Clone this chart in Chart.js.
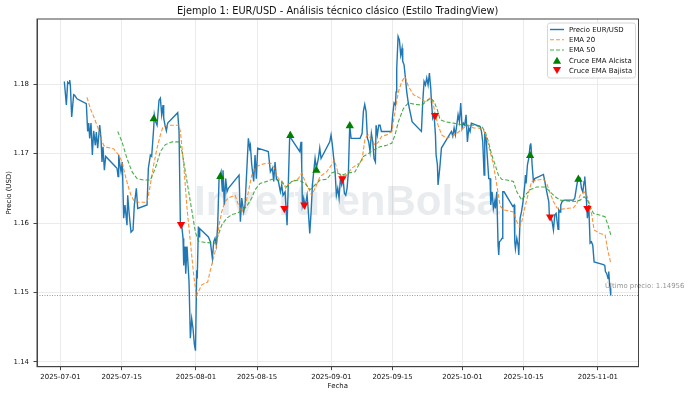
<!DOCTYPE html>
<html>
<head>
<meta charset="utf-8">
<script src="https://cdn.jsdelivr.net/npm/chart.js@4.4.1/dist/chart.umd.min.js"></script>
<style>
html, body { margin: 0; padding: 0; background: #fff; }
#wrap { width: 700px; height: 393px; }
</style>
</head>
<body>
<div id="wrap"><canvas id="chart" width="700" height="393"></canvas></div>
<script>
// eje x: dias desde 2025-07-01 00:00
var tickDays = [0, 14, 31, 45, 62, 76, 92, 106, 123];
var tickLabels = ['2025-07-01', '2025-07-15', '2025-08-01', '2025-08-15', '2025-09-01',
                  '2025-09-15', '2025-10-01', '2025-10-15', '2025-11-01'];
var yTicks = [1.14, 1.15, 1.16, 1.17, 1.18];

var priceDays = [
    0.88, 1.34, 1.64, 1.95, 2.10, 2.25, 2.56, 3.01, 3.24, 3.78,
    5.91, 6.22, 6.45, 6.68, 6.98, 7.29, 7.59, 7.97, 8.20, 8.51, 8.97, 9.27, 9.50, 9.73, 10.04, 10.34,
    12.94, 13.17, 13.32, 13.55, 13.85, 14.15, 14.46, 14.76, 15.22, 15.38, 15.68, 16.14, 16.60, 16.90, 17.36, 17.67,
    19.81, 20.11, 20.57, 20.87, 21.33, 21.48, 21.79, 22.10, 22.55, 22.86, 23.16, 23.47, 23.62, 23.92, 24.23, 24.54,
    26.83, 27.13, 27.44, 27.74, 28.05, 28.20, 28.50, 28.66, 28.96, 29.42, 29.72, 30.03, 30.33, 30.64, 30.90,
    31.18, 31.30, 31.56, 31.71, 31.86,
    33.85, 34.30, 34.76, 35.07, 35.37, 35.68, 35.98, 36.29, 36.75, 37.05, 37.20, 37.51, 37.81, 38.12, 38.42,
    40.87, 41.17, 41.48, 41.93, 42.24, 42.70, 43.00, 43.31, 43.46, 43.77, 44.22, 44.53, 44.83, 45.14,
    47.57, 48.04, 48.50, 48.80, 49.11, 49.41, 49.87, 50.33, 50.64, 50.94, 51.40, 51.86, 52.16, 52.47, 52.77,
    54.76, 55.06, 55.21, 55.37, 55.67, 55.98, 56.44, 56.74, 57.05, 57.36, 57.66, 57.96, 58.27, 58.57, 59.03, 59.34, 59.64,
    61.63, 61.93, 62.24, 62.54, 62.85, 63.15, 63.46, 63.76, 64.07, 64.37, 64.68, 64.98, 65.29, 65.59, 65.90, 66.20, 66.51,
    68.57, 69.03, 69.33, 69.63, 69.94, 70.25, 70.55, 70.85, 71.16, 71.47, 71.77, 72.08, 72.23, 72.53, 72.84, 73.14, 73.45,
    75.74, 76.04, 76.35, 76.66, 76.81, 76.96, 77.27, 77.57, 77.88, 78.18, 78.33, 78.64, 78.95, 79.25, 79.56, 79.86, 80.17, 80.47,
    82.61, 82.92, 83.22, 83.53, 83.83, 84.14, 84.44, 84.75, 84.90, 85.20, 85.51, 85.82, 85.97, 86.27, 86.42, 86.73, 86.88, 87.19,
    89.48, 89.78, 90.09, 90.39, 90.70, 91.00, 91.31, 91.61, 91.92, 92.22, 92.53, 92.83, 93.14, 93.45, 93.75, 94.05,
    96.04, 96.35, 96.65, 96.96, 97.11, 97.41, 97.72, 98.02, 98.33, 98.48, 98.79, 99.09, 99.40, 99.55, 99.86,
    100.16, 100.31, 100.47, 100.77, 101.08, 101.23, 101.53,
    103.52, 103.83, 103.98, 104.13, 104.44, 104.74, 104.90, 105.20, 105.51, 105.81, 105.96, 106.27, 106.42, 106.57,
    106.88, 107.18, 107.49, 107.64, 107.79, 107.95, 108.25, 108.56,
    110.54, 110.85, 111.15, 111.46, 111.76, 111.92, 112.22, 112.53, 112.83, 113.14, 113.44, 113.90, 114.05, 114.36,
    114.51, 114.82, 115.28,
    117.41, 117.72, 118.02, 118.33, 118.63, 118.94, 119.24, 119.55, 119.85, 120.00, 120.31, 120.61, 120.92, 121.22,
    121.53, 121.83, 122.14,
    124.27, 124.58, 124.73, 125.04, 125.34, 125.49, 125.65, 125.80, 125.95
];
var priceValues = [
    1.1804, 1.1770, 1.1803, 1.1801, 1.1806, 1.1799, 1.1753, 1.1785, 1.1784, 1.1779,
    1.1772, 1.1732, 1.1744, 1.1722, 1.1744, 1.1698, 1.1733, 1.1712, 1.1731, 1.1708, 1.1741, 1.1722, 1.1688, 1.1710, 1.1676, 1.1696,
    1.1679, 1.1667, 1.1698, 1.1686, 1.1674, 1.1688, 1.1607, 1.1626, 1.1597, 1.1640, 1.1616, 1.1587, 1.1590, 1.1626, 1.1650, 1.1621,
    1.1626, 1.1679, 1.1698, 1.1696, 1.1737, 1.1756, 1.1746, 1.1741, 1.1777, 1.1780, 1.1756, 1.1770, 1.1751, 1.1741, 1.1733, 1.1744,
    1.1759, 1.1732, 1.1597, 1.1597, 1.1578, 1.1539, 1.1566, 1.1527, 1.1566, 1.1515, 1.1434, 1.1462, 1.1448, 1.1425, 1.1416,
    1.1532, 1.1520, 1.1595, 1.1580, 1.1592,
    1.1580, 1.1573, 1.1549, 1.1573, 1.1578, 1.1568, 1.1597, 1.1664, 1.1674, 1.1645, 1.1676, 1.1626, 1.1664, 1.1645, 1.1650,
    1.1669, 1.1602, 1.1636, 1.1616, 1.1626, 1.1684, 1.1722, 1.1708, 1.1712, 1.1684, 1.1660, 1.1698, 1.1664, 1.1708,
    1.1703, 1.1674, 1.1679, 1.1660, 1.1688, 1.1664, 1.1660, 1.1645, 1.1655, 1.1640, 1.1645, 1.1597, 1.1660, 1.1727, 1.1722,
    1.1703, 1.1717, 1.1684, 1.1626, 1.1636, 1.1624, 1.1640, 1.1616, 1.1585, 1.1616, 1.1655, 1.1674, 1.1693, 1.1679, 1.1693, 1.1708, 1.1693,
    1.1717, 1.1727, 1.1712, 1.1693, 1.1674, 1.1640, 1.1650, 1.1636, 1.1664, 1.1655, 1.1664, 1.1643, 1.1640, 1.1650, 1.1674, 1.1741, 1.1722,
    1.1722, 1.1729, 1.1761, 1.1771, 1.1761, 1.1722, 1.1717, 1.1703, 1.1729, 1.1717, 1.1693, 1.1688, 1.1741, 1.1727, 1.1741, 1.1741, 1.1732,
    1.1732, 1.1756, 1.1773, 1.1770, 1.1789, 1.1823, 1.1869, 1.1864, 1.1842, 1.1852, 1.1833, 1.1828, 1.1809, 1.1789, 1.1775, 1.1765, 1.1756, 1.1746,
    1.1732, 1.1775, 1.1804, 1.1799, 1.1809, 1.1799, 1.1816, 1.1794, 1.1775, 1.1751, 1.1756, 1.1727, 1.1698, 1.1684, 1.1655, 1.1674, 1.1684, 1.1708,
    1.1732, 1.1725, 1.1737, 1.1727, 1.1741, 1.1756, 1.1746, 1.1773, 1.1737, 1.1744, 1.1741, 1.1756, 1.1717, 1.1737, 1.1732, 1.1744,
    1.1739, 1.1732, 1.1717, 1.1669, 1.1727, 1.1722, 1.1693, 1.1664, 1.1664, 1.1626, 1.1645, 1.1621, 1.1631, 1.1621, 1.1645,
    1.1568, 1.1554, 1.1573, 1.1575, 1.1578, 1.1645, 1.1645,
    1.1624, 1.1626, 1.1573, 1.1563, 1.1578, 1.1568, 1.1554, 1.1607, 1.1616, 1.1628, 1.1636, 1.1655, 1.1669, 1.1657,
    1.1684, 1.1693, 1.1712, 1.1715, 1.1703, 1.1684, 1.1660, 1.1664,
    1.1670, 1.1660, 1.1650, 1.1640, 1.1631, 1.1607, 1.1609, 1.1602, 1.1590, 1.1612, 1.1614, 1.1591, 1.1619, 1.1616,
    1.1626, 1.1631, 1.1633,
    1.1633, 1.1636, 1.1648, 1.1660, 1.1662, 1.1664, 1.1650, 1.1645, 1.1660, 1.1667, 1.1640, 1.1607, 1.1626, 1.1571,
    1.1573, 1.1568, 1.1544,
    1.1540, 1.1539, 1.1530, 1.1527, 1.1520, 1.1530, 1.1515, 1.1506, 1.14956
];

var ema20Days = [
    6.07, 6.83, 7.75, 8.74, 9.27, 9.88, 10.64, 12.17, 13.32, 14.08, 14.61, 15.38, 16.14, 16.90, 17.90, 19.81,
    20.42, 21.33, 22.10, 22.86, 23.47, 24.38, 27.05, 27.44, 28.20, 28.96, 29.72, 30.49, 31.10, 32.31, 33.69,
    34.22, 34.99, 35.75, 36.29, 36.90, 37.66, 38.42, 39.95, 40.71, 41.48, 42.24, 43.00, 43.77, 44.53, 45.67,
    47.20, 48.19, 48.96, 49.87, 50.79, 51.55, 52.31, 53.08, 54.45, 55.21, 55.98, 56.74, 57.50, 58.27, 59.41,
    60.94, 62.08, 62.69, 63.46, 64.37, 65.51, 66.66, 67.80, 68.95, 69.71, 70.47, 71.24, 72.00, 72.76, 73.53,
    74.67, 75.82, 76.58, 77.34, 78.11, 78.87, 79.63, 80.78, 82.30, 83.45, 84.60, 85.20, 85.82, 86.42, 87.26,
    88.41, 89.55, 90.70, 92.22, 93.37, 94.52, 95.66, 96.81, 97.57, 98.33, 99.10, 99.86, 100.62, 101.38, 102.91,
    103.67, 104.44, 105.04, 105.58, 106.34, 107.10, 107.87, 109.01, 110.54, 111.30, 112.07, 112.83, 113.59,
    114.74, 115.88, 117.41, 118.17, 118.94, 119.85, 120.46, 121.07, 121.60, 122.14, 123.51, 124.66, 125.19, 125.95
];
var ema20Values = [
    1.1781, 1.1765, 1.1751, 1.1734, 1.1722, 1.1712, 1.1709, 1.1707, 1.1698, 1.1688, 1.1674, 1.1655, 1.1640, 1.1631, 1.1630, 1.1630,
    1.1650, 1.1684, 1.1708, 1.1727, 1.1739, 1.1741, 1.1741, 1.1732, 1.1684, 1.1621, 1.1573, 1.1525, 1.1495, 1.1511, 1.1515,
    1.1530, 1.1549, 1.1568, 1.1597, 1.1616, 1.1631, 1.1636, 1.1640, 1.1626, 1.1616, 1.1624, 1.1645, 1.1669, 1.1679, 1.1684,
    1.1686, 1.1686, 1.1679, 1.1664, 1.1660, 1.1650, 1.1657, 1.1660, 1.1664, 1.1672, 1.1660, 1.1650, 1.1640, 1.1650, 1.1667,
    1.1674, 1.1684, 1.1691, 1.1674, 1.1667, 1.1669, 1.1679, 1.1684, 1.1688, 1.1722, 1.1727, 1.1720, 1.1712, 1.1717, 1.1725,
    1.1727, 1.1732, 1.1761, 1.1789, 1.1804, 1.1811, 1.1797, 1.1785, 1.1780, 1.1775, 1.1780, 1.1775, 1.1756, 1.1741, 1.1727,
    1.1722, 1.1725, 1.1729, 1.1737, 1.1741, 1.1737, 1.1737, 1.1734, 1.1722, 1.1703, 1.1684, 1.1655, 1.1625, 1.1619, 1.1617,
    1.1616, 1.1602, 1.1595, 1.1602, 1.1624, 1.1643, 1.1660, 1.1662, 1.1663, 1.1657, 1.1643, 1.1631, 1.1622,
    1.1620, 1.1621, 1.1622, 1.1628, 1.1640, 1.1645, 1.1640, 1.1628, 1.1612, 1.1590, 1.1585, 1.1583, 1.1563, 1.1542
];

var ema50Days = [
    13.09, 14.08, 15.22, 16.37, 17.51, 19.04, 20.57, 21.71, 22.86, 24.00, 25.53, 27.05, 27.82, 28.58, 29.34,
    30.11, 30.87, 31.56, 33.08, 35.37, 36.13, 36.90, 38.04, 39.18, 40.33, 41.86, 42.62, 43.77, 44.53, 45.67,
    47.20, 48.35, 49.11, 50.26, 51.78, 52.92, 54.45, 55.98, 57.12, 58.27, 59.41, 60.94, 62.08, 62.85, 64.37,
    65.90, 67.42, 69.33, 70.47, 71.62, 73.14, 74.67, 75.82, 76.58, 77.34, 78.49, 79.63, 81.16, 82.69, 83.68,
    84.75, 85.51, 86.27, 86.88, 88.03, 89.94, 91.46, 92.61, 94.52, 96.42, 97.19, 97.95, 98.71, 99.48, 100.24,
    101.00, 102.14, 102.91, 103.67, 104.44, 105.58, 106.34, 107.49, 109.01, 110.92, 112.07, 113.21, 114.36,
    115.88, 117.79, 118.94, 119.85, 120.61, 121.22, 121.99, 123.13, 124.66, 125.42, 125.95
];
var ema50Values = [
    1.1732, 1.1717, 1.1693, 1.1674, 1.1664, 1.1662, 1.1662, 1.1679, 1.1703, 1.1713, 1.1717, 1.1717, 1.1703, 1.1674, 1.1645,
    1.1616, 1.1587, 1.1574, 1.1572, 1.1571, 1.1583, 1.1597, 1.1607, 1.1612, 1.1614, 1.1619, 1.1624, 1.1636, 1.1648, 1.1657,
    1.1660, 1.1663, 1.1663, 1.1661, 1.1652, 1.1660, 1.1662, 1.1657, 1.1648, 1.1655, 1.1662, 1.1663, 1.1672, 1.1674, 1.1669,
    1.1672, 1.1674, 1.1696, 1.1700, 1.1705, 1.1710, 1.1712, 1.1715, 1.1727, 1.1746, 1.1765, 1.1773, 1.1771, 1.1770, 1.1775,
    1.1780, 1.1775, 1.1763, 1.1749, 1.1746, 1.1744, 1.1742, 1.1741, 1.1741, 1.1739, 1.1732, 1.1717, 1.1698, 1.1684, 1.1669,
    1.1663, 1.1662, 1.1661, 1.1660, 1.1645, 1.1633, 1.1640, 1.1648, 1.1652, 1.1652, 1.1645, 1.1638, 1.1633,
    1.1632, 1.1631, 1.1633, 1.1638, 1.1633, 1.1624, 1.1614, 1.1612, 1.1609, 1.1595, 1.1583
];

var buyDays = [21.34, 36.58, 52.61, 58.56, 66.21, 107.49, 118.54];
var buyValues = [1.1750, 1.1667, 1.1726, 1.1676, 1.1740, 1.1697, 1.1663];
var sellDays = [27.59, 51.24, 55.82, 64.52, 85.74, 112.07, 120.60];
var sellValues = [1.1598, 1.1621, 1.1626, 1.1664, 1.1755, 1.1609, 1.1621];

var lastPrice = 1.14956;

var FONT = 'DejaVu Sans';
Chart.defaults.font.family = FONT;
Chart.defaults.color = '#111';

function toPoints(xs, ys) {
    var pts = [];
    for (var i = 0; i < xs.length; i++) {
        pts.push({x: xs[i], y: ys[i]});
    }
    return pts;
}

function triangle(ctx, cx, cy, r, down, color) {
    var h = r * 1.5, w = r * 0.9;
    ctx.beginPath();
    if (down) {
        ctx.moveTo(cx, cy + h / 2);
        ctx.lineTo(cx - w, cy - h / 2);
        ctx.lineTo(cx + w, cy - h / 2);
    } else {
        ctx.moveTo(cx, cy - h / 2);
        ctx.lineTo(cx - w, cy + h / 2);
        ctx.lineTo(cx + w, cy + h / 2);
    }
    ctx.closePath();
    ctx.fillStyle = color;
    ctx.fill();
}

var decor = {
    id: 'decor',
    beforeDatasetsDraw: function (chart) {
        var ctx = chart.ctx, ca = chart.chartArea;
        var yScale = chart.scales.y;
        ctx.save();
        // marca de agua
        ctx.font = 'bold 42px "Liberation Sans"';
        ctx.textAlign = 'center';
        ctx.textBaseline = 'alphabetic';
        ctx.fillStyle = 'rgba(120,135,155,0.16)';
        ctx.fillText('InvertirenBolsa', 347, 215);
        // linea del ultimo precio
        var yy = yScale.getPixelForValue(lastPrice);
        ctx.strokeStyle = 'rgba(120,120,120,0.75)';
        ctx.lineWidth = 1;
        ctx.setLineDash([1, 1.5]);
        ctx.beginPath();
        ctx.moveTo(ca.left, yy);
        ctx.lineTo(ca.right, yy);
        ctx.stroke();
        ctx.restore();
    },
    afterDatasetsDraw: function (chart) {
        var ctx = chart.ctx, ca = chart.chartArea;
        ctx.save();
        ctx.strokeStyle = '#444';
        ctx.lineWidth = 1;
        ctx.strokeRect(ca.left, ca.top, ca.right - ca.left, ca.bottom - ca.top);
        ctx.restore();
    },
    afterDraw: function (chart) {
        var ctx = chart.ctx, ca = chart.chartArea;
        var yScale = chart.scales.y;
        ctx.save();
        // titulo
        ctx.font = '9.8px "' + FONT + '"';
        ctx.fillStyle = '#111';
        ctx.textAlign = 'center';
        ctx.textBaseline = 'alphabetic';
        ctx.fillText('Ejemplo 1: EUR/USD - Análisis técnico clásico (Estilo TradingView)', (ca.left + ca.right) / 2, 14);

        // texto ultimo precio
        ctx.font = '6.94px "' + FONT + '"';
        ctx.fillStyle = 'rgba(0,0,0,0.45)';
        ctx.textAlign = 'left';
        ctx.fillText('Último precio: ' + lastPrice.toFixed(5), 605, yScale.getPixelForValue(lastPrice) - 7);

        // leyenda
        var bx = ca.right - 91.5, by = ca.top + 3.5, bw = 88, bh = 55;
        ctx.fillStyle = 'rgba(255,255,255,0.85)';
        ctx.strokeStyle = '#d6d6d6';
        ctx.lineWidth = 1;
        ctx.beginPath();
        ctx.roundRect(bx + 0.5, by + 0.5, bw, bh, 2.5);
        ctx.fill();
        ctx.stroke();

        var items = chart.data.datasets;
        var rowY = [by + 7, by + 17.3, by + 27.5, by + 37.8, by + 48];
        ctx.font = '6.94px "' + FONT + '"';
        ctx.textBaseline = 'middle';
        for (var i = 0; i < items.length; i++) {
            var ds = items[i], yRow = rowY[i];
            if (ds.showLine === false) {
                triangle(ctx, bx + 10, yRow, 4.6, ds.pointRotation === 180, ds.pointBackgroundColor);
            } else {
                ctx.strokeStyle = ds.borderColor;
                ctx.lineWidth = ds.borderWidth;
                ctx.setLineDash(ds.borderDash || []);
                ctx.beginPath();
                ctx.moveTo(bx + 3, yRow);
                ctx.lineTo(bx + 17, yRow);
                ctx.stroke();
                ctx.setLineDash([]);
            }
            ctx.fillStyle = '#111';
            ctx.fillText(ds.label, bx + 22, yRow + 0.5);
        }
        ctx.restore();
    }
};

var tickFont = {family: FONT, size: 6.94};

new Chart(document.getElementById('chart').getContext('2d'), {
    type: 'line',
    data: {
        datasets: [
            {
                label: 'Precio EUR/USD',
                data: toPoints(priceDays, priceValues),
                borderColor: '#1f77b4',
                borderWidth: 1.4,
                pointRadius: 0,
                tension: 0,
                order: 4
            },
            {
                label: 'EMA 20',
                data: toPoints(ema20Days, ema20Values),
                borderColor: 'rgba(255,127,14,0.85)',
                borderWidth: 1.1,
                borderDash: [4, 2],
                pointRadius: 0,
                tension: 0,
                order: 3
            },
            {
                label: 'EMA 50',
                data: toPoints(ema50Days, ema50Values),
                borderColor: 'rgba(44,160,44,0.85)',
                borderWidth: 1.1,
                borderDash: [4, 2],
                pointRadius: 0,
                tension: 0,
                order: 2
            },
            {
                label: 'Cruce EMA Alcista',
                data: toPoints(buyDays, buyValues),
                showLine: false,
                pointStyle: 'triangle',
                pointRadius: 4.8,
                pointRotation: 0,
                pointBackgroundColor: 'green',
                pointBorderColor: 'green',
                pointBorderWidth: 0,
                order: 1
            },
            {
                label: 'Cruce EMA Bajista',
                data: toPoints(sellDays, sellValues),
                showLine: false,
                pointStyle: 'triangle',
                pointRadius: 4.8,
                pointRotation: 180,
                pointBackgroundColor: 'red',
                pointBorderColor: 'red',
                pointBorderWidth: 0,
                order: 0
            }
        ]
    },
    options: {
        responsive: false,
        animation: false,
        devicePixelRatio: 1,
        events: [],
        layout: {padding: {left: 0, right: 61.5, top: 19, bottom: 0}},
        plugins: {
            legend: {display: false},
            title: {display: false},
            tooltip: {enabled: false}
        },
        scales: {
            x: {
                type: 'linear',
                bounds: 'data',
                min: -5.38,
                max: 132.3,
                afterBuildTicks: function (s) {
                    s.ticks = tickDays.map(function (v) { return {value: v}; });
                },
                afterFit: function (s) { s.height = 26.3; },
                ticks: {
                    autoSkip: false,
                    maxRotation: 0,
                    padding: 3,
                    font: tickFont,
                    color: '#111',
                    callback: function (v, i) { return tickLabels[i]; }
                },
                grid: {color: '#ebebeb', lineWidth: 1, tickLength: 3.5, tickColor: '#444'},
                border: {color: '#444', width: 1},
                title: {display: true, text: 'Fecha', font: tickFont, color: '#111', padding: {top: 0, bottom: 2.5}}
            },
            y: {
                type: 'linear',
                bounds: 'data',
                min: 1.1393,
                max: 1.1894,
                afterBuildTicks: function (s) {
                    s.ticks = yTicks.map(function (v) { return {value: v}; });
                },
                afterFit: function (s) { s.width = 37; },
                ticks: {
                    padding: 4.5,
                    font: tickFont,
                    color: '#111',
                    callback: function (v) { return v.toFixed(2); }
                },
                grid: {color: '#ebebeb', lineWidth: 1, tickLength: 3.5, tickColor: '#444'},
                border: {color: '#444', width: 1},
                title: {display: true, text: 'Precio (USD)', font: tickFont, color: '#111', padding: {top: 5.5, bottom: 0}}
            }
        }
    },
    plugins: [decor]
});
</script>
</body>
</html>
